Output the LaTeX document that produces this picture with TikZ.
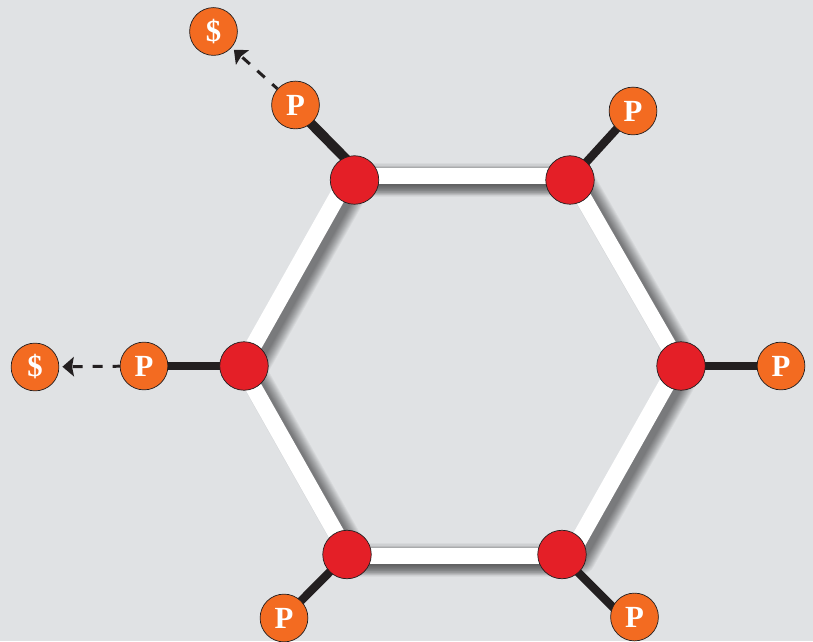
\documentclass[tikz,border=0pt]{standalone}
\usepackage{fontspec}
\setmainfont{Liberation Serif}
\usepackage{xcolor}
\usetikzlibrary{arrows.meta,backgrounds}
\definecolor{panelgray}{HTML}{E0E2E4}
\definecolor{ringred}{HTML}{E41F27}
\definecolor{tagorange}{HTML}{F36B21}
\definecolor{bondblack}{HTML}{231F20}

\begin{document}
\begin{tikzpicture}[x=0.02cm,y=-0.02cm]
  \tikzset{ringvertex/.style={circle,fill=ringred,draw=bondblack,line width=0.4pt,inner sep=0pt,minimum size=27.6pt}}
  \tikzset{tagvertex/.style={circle,fill=tagorange,draw=bondblack,line width=0.4pt,inner sep=0pt,minimum size=27.2pt,text=white,font=\fontsize{17.5}{17.5}\selectfont\bfseries}}
  \tikzset{ringedge/.style={draw=white,line width=9.4pt}}
  \tikzset{bondedge/.style={draw=bondblack,line width=4.7pt,shorten <=-3pt,shorten >=-3pt}}
  \tikzset{cleaveedge/.style={draw=bondblack,line width=1.7pt,dash pattern=on 5.7pt off 5.7pt,dash phase=1.7pt,shorten >=1.8pt,-{Stealth[length=6.5pt,width=11pt,inset=1pt]}}}
  \useasboundingbox (0,0) rectangle (813,641);
  \node[ringvertex] (r1) at (354.5,180) {};
  \node[ringvertex] (r2) at (570,180) {};
  \node[ringvertex] (r3) at (681,366) {};
  \node[ringvertex] (r4) at (562,554.5) {};
  \node[ringvertex] (r5) at (347,554.5) {};
  \node[ringvertex] (r6) at (244,366) {};
  \node[tagvertex] (p1) at (295.5,105) {P};
  \node[tagvertex] (p2) at (633,111) {P};
  \node[tagvertex] (p3) at (781,366) {P};
  \node[tagvertex] (p4) at (634.5,617) {P};
  \node[tagvertex] (p5) at (284,618) {P};
  \node[tagvertex] (p6) at (144,366) {P};
  \node[tagvertex] (s1) at (213.5,31.5) {\$};
  \node[tagvertex] (s6) at (35,367) {\$};
  % ends of the white ring pieces, all hidden under the red nodes
  \coordinate (t1) at (354.5,176);
  \coordinate (t2) at (570,176);
  \coordinate (a2) at (573,180);
  \coordinate (a3) at (680,366);
  \coordinate (b3) at (677,366);
  \coordinate (b4) at (570.7,554.5);
  \coordinate (c4) at (562,556);
  \coordinate (c5) at (347,556);
  \coordinate (d5) at (348,554.5);
  \coordinate (d6) at (241.5,366);
  \coordinate (e6) at (242,366);
  \coordinate (e1) at (346.6,180);
  \begin{pgfonlayer}{background}
    \fill[panelgray] (0,0) rectangle (813,641);
    % soft shadow under the ring
    \foreach \w in {17,16,15,14,13,12,11,10,9,8,7,6,5}
      \draw[black,opacity=0.045,line width=\w pt,line cap=round]
        \foreach \a/\b in {t1/t2,a2/a3,b3/b4,c4/c5,d5/d6,e6/e1} {
          ([shift={(5.6pt,-2.8pt)}]\a) -- ([shift={(5.6pt,-2.8pt)}]\b)
        };
    % top and bottom pieces throw a little more
    \foreach \w in {19,17.5,16,14.5,13}
      \draw[black,opacity=0.04,line width=\w pt]
        \foreach \a/\b in {t1/t2,c4/c5} {
          ([yshift=-2.2pt]\a) -- ([yshift=-2.2pt]\b)
        };
    \draw[ringedge] (t1) -- (t2);
    \draw[ringedge] (a2) -- (a3);
    \draw[ringedge] (b3) -- (b4);
    \draw[ringedge] (c4) -- (c5);
    \draw[ringedge] (d5) -- (d6);
    \draw[ringedge] (e6) -- (e1);
    \draw[bondedge,line width=5.6pt] (r1.114) -- (p1.-50);
    \draw[bondedge] (r2) -- (p2);
    \draw[bondedge] (r3) -- (p3);
    \draw[bondedge] (r4.-48) -- (p4.155);
    \draw[bondedge] (r5) -- (p5);
    \draw[bondedge] (r6) -- (p6);
  \end{pgfonlayer}
  \draw[cleaveedge] (p1) -- (s1);
  \draw[cleaveedge] (p6) -- (s6);
\end{tikzpicture}
\end{document}
